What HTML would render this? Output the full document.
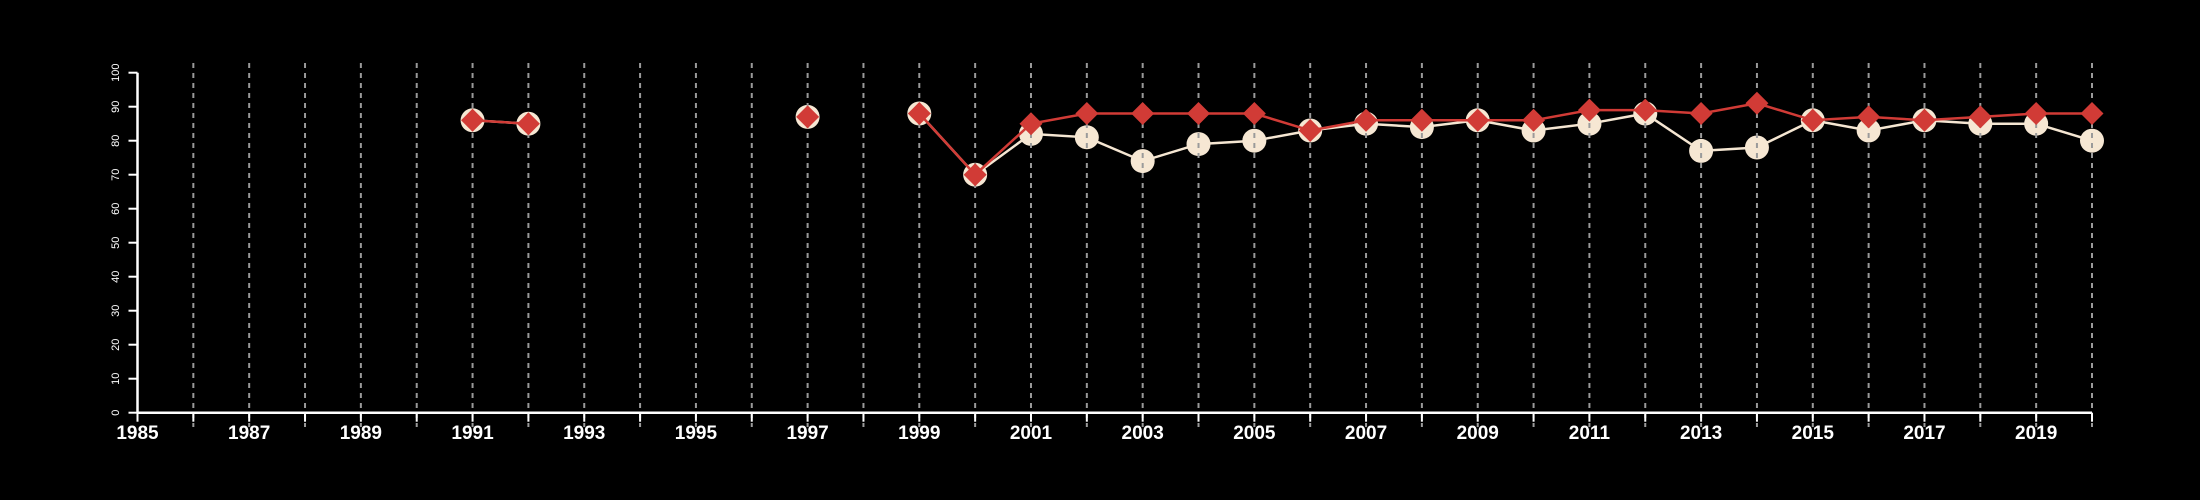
<!DOCTYPE html>
<html><head><meta charset="utf-8"><style>
html,body{margin:0;padding:0;background:#000;width:2200px;height:500px;overflow:hidden}
svg text{font-family:"Liberation Sans",Arial,sans-serif;fill:#fff}
</style></head><body>
<svg id="chart" width="2200" height="500" viewBox="0 0 2200 500" xmlns="http://www.w3.org/2000/svg">
<rect width="2200" height="500" fill="#000"/>
</svg>
<script>
const years = [1991,1992,1997,1999,2000,2001,2002,2003,2004,2005,2006,2007,2008,2009,2010,2011,2012,2013,2014,2015,2016,2017,2018,2019,2020];
const seriesA = [86,85,87,88,70,82,81,74,79,80,83,85,84,86,83,85,88,77,78,86,83,86,85,85,80];
const seriesB = [86,85,87,88,70,85,88,88,88,88,83,86,86,86,86,89,89,88,91,86,87,86,87,88,88];
const yTicks = [0,10,20,30,40,50,60,70,80,90,100];
const xMin = 1985, xMax = 2020;

const NS = 'http://www.w3.org/2000/svg';
const svg = document.getElementById('chart');
const X0 = 137.5, X1 = 2092, Y0 = 412.7, Y1 = 72.7;
const sx = v => X0 + (v - xMin) * (X1 - X0) / (xMax - xMin);
const sy = v => Y0 - v * (Y0 - Y1) / 100;
function mk(tag, attrs, parent) {
  const e = document.createElementNS(NS, tag);
  for (const k in attrs) e.setAttribute(k, attrs[k]);
  (parent || svg).appendChild(e);
  return e;
}
function segments(ys, vals) {
  const segs = []; let cur = [];
  for (let i = 0; i < ys.length; i++) {
    if (i > 0 && ys[i] - ys[i-1] > 1) { segs.push(cur); cur = []; }
    cur.push([sx(ys[i]), sy(vals[i])]);
  }
  segs.push(cur);
  return segs;
}
// series A line
const gA = mk('g', {});


segments(years, seriesA).forEach(s => {
  if (s.length < 2) return;
  const p = mk('polyline', {points: s.map(q => q.join(',')).join(' '), fill: 'none', stroke: '#f5e6d2', 'stroke-width': 2.5}, gA);
  
  
});
years.forEach((y, i) => {
  const c = mk('circle', {cx: sx(y), cy: sy(seriesA[i]), r: 12, fill: '#f6e7d3'}, gA);
  
  
});
// grid
for (let y = 1986; y <= 2020; y++) {
  const l = mk('line', {x1: sx(y), x2: sx(y), y1: 63, y2: 427, stroke: '#9a9a9a', 'stroke-width': 2, 'stroke-dasharray': '5,5'});
  
  
}
// series B
const gB = mk('g', {});


segments(years, seriesB).forEach(s => {
  if (s.length < 2) return;
  const p = mk('polyline', {points: s.map(q => q.join(',')).join(' '), fill: 'none', stroke: '#d13b36', 'stroke-width': 2.5}, gB);
  
  
});
years.forEach((y, i) => {
  const cx = sx(y), cy = sy(seriesB[i]), d = 11.5;
  const p = mk('polygon', {points: `${cx},${cy-d} ${cx+d},${cy} ${cx},${cy+d} ${cx-d},${cy}`, fill: '#d13b36'}, gB);
  
  
});
// axes
const xa = mk('line', {x1: X0, x2: X1, y1: Y0, y2: Y0, stroke: '#fff', 'stroke-width': 2.5});


const ya = mk('line', {x1: X0, x2: X0, y1: Y0, y2: Y1, stroke: '#fff', 'stroke-width': 2.5});


for (let y = xMin; y <= xMax; y++) {
  const t = mk('line', {x1: sx(y), x2: sx(y), y1: Y0, y2: Y0 + 9, stroke: '#fff', 'stroke-width': 2});
  
  
  if ((y - xMin) % 2 === 0) {
    const tx = mk('text', {x: sx(y), y: 439, 'text-anchor': 'middle', 'font-size': 19, 'font-weight': 'bold'});
    tx.textContent = y;
    
    
  }
}
yTicks.forEach(v => {
  const t = mk('line', {x1: X0 - 9, x2: X0, y1: sy(v), y2: sy(v), stroke: '#fff', 'stroke-width': 2});
  
  
  const tx = mk('text', {x: 0, y: 0, transform: `translate(119,${sy(v)}) rotate(-90)`, 'text-anchor': 'middle', 'font-size': 11});
  tx.textContent = v;
  
  
});
</script>
</body></html>
